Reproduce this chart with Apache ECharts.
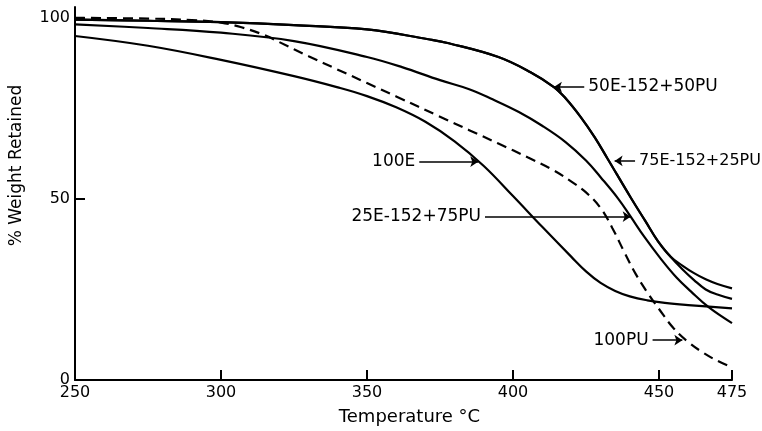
<!DOCTYPE html>
<html>
<head>
<meta charset="utf-8">
<title>TGA</title>
<script src="https://cdn.jsdelivr.net/npm/echarts@6/dist/echarts.min.js"></script>
<style>
  html, body { margin: 0; padding: 0; background: #fff; }
  #chart { width: 762px; height: 431px; }
</style>
</head>
<body>
<div id="chart"></div>
<script>
// temperature (C) / % weight retained
// 50E and 75E run together until ~454 C, then split
var temps50 = [250, 275, 300, 325, 350, 371, 378, 395, 406, 414, 418, 423.2, 428, 432.4, 440.3, 445.4, 449.5, 453.9, 458, 462, 466, 470, 475]
var w50 = [99.5, 99.2, 98.8, 98.0, 96.8, 94.1, 93.0, 89.2, 85.0, 80.9, 77.8, 72.6, 67.0, 61.1, 50.4, 43.8, 38.5, 34.1, 31.6, 29.5, 27.8, 26.5, 25.3]
var w75 = [99.5, 99.2, 98.8, 98.0, 96.8, 94.1, 93.0, 89.2, 85.0, 80.9, 77.8, 72.6, 67.0, 61.1, 50.4, 43.8, 38.5, 34.1, 30.6, 27.6, 25.0, 23.6, 22.4]

var temps25 = [250, 275, 300, 325, 350, 362, 375, 385, 393, 402, 410, 418, 425, 430, 436, 440.3, 445, 450.5, 456, 461, 467, 475]
var w25 = [98.2, 97.2, 95.9, 93.6, 89.2, 86.4, 82.8, 80.3, 77.5, 74.0, 70.2, 65.7, 60.6, 56.0, 50.1, 45.1, 39.5, 33.6, 28.3, 24.4, 20.1, 15.7]

var temps100E = [250, 275, 300, 325, 340, 350, 360, 370, 380, 390, 400, 410, 420, 425, 430, 435, 440, 446, 452, 460, 475]
var w100E = [95.0, 92.3, 88.4, 83.9, 80.8, 78.4, 75.3, 71.3, 65.9, 59.1, 50.8, 42.3, 34.0, 30.0, 26.8, 24.6, 23.1, 22.0, 21.3, 20.7, 19.8]

var tempsPU = [250, 275, 290, 300, 307, 315, 320, 330, 340, 350, 360, 375, 385, 395, 405, 413, 420, 425, 430, 434, 438, 442, 446, 450, 455, 460, 465, 470, 475]
var wPU = [100, 99.8, 99.4, 98.7, 97.4, 95.2, 93.3, 89.4, 85.7, 82.0, 78.3, 72.7, 69.0, 65.3, 61.5, 58.3, 54.8, 51.8, 47.5, 42.0, 35.5, 29.3, 24.2, 19.6, 14.3, 10.5, 7.6, 5.3, 3.5]

var xTicks = [250, 300, 350, 400, 450, 475]
var yTicks = [0, 50, 100]

// callouts: [tail temp, tip temp, weight, font size]
var callouts = {
  '50E-152+50PU': [424.4, 414.0, 80.9, 17],
  '75E-152+25PU': [441.8, 434.8, 60.5, 16],
  '100E': [367.9, 388.1, 60.3, 17],
  '25E-152+75PU': [390.4, 440.3, 45.1, 17],
  '100PU': [447.8, 458.0, 11.0, 17]
}

var FONT = 'DejaVu Sans'

function pairs(xs, ys) {
  return xs.map(function (x, i) { return [x, ys[i]] })
}

function callout(name) {
  var c = callouts[name]
  return {
    silent: true,
    symbol: ['none', 'arrow'],
    symbolSize: 8,
    lineStyle: { color: '#000', width: 1.5, type: 'solid' },
    label: {
      show: true,
      position: 'start',
      distance: 4,
      formatter: name,
      color: '#000',
      fontFamily: FONT,
      fontSize: c[3]
    },
    data: [[{ coord: [c[0], c[2]] }, { coord: [c[1], c[2]] }]]
  }
}

function curve(name, xs, ys, dashed) {
  return {
    name: name,
    type: 'line',
    data: pairs(xs, ys),
    symbol: 'none',
    smooth: 0.4,
    lineStyle: { color: '#000', width: 2.2, type: dashed ? [10, 6] : 'solid' },
    emphasis: { disabled: true },
    markLine: callout(name)
  }
}

var chart = echarts.init(document.getElementById('chart'))
chart.setOption({
  animation: false,
  backgroundColor: '#fff',
  grid: { left: 73, right: 30, top: 7, bottom: 49 },
  xAxis: {
    type: 'value',
    min: 250,
    max: 475,
    name: 'Temperature °C',
    nameLocation: 'middle',
    nameGap: 28,
    nameTextStyle: { color: '#000', fontFamily: FONT, fontSize: 18, padding: [0, 0, 0, 12] },
    axisLine: { show: true, lineStyle: { color: '#000', width: 2 } },
    axisTick: { show: true, inside: true, length: 10, customValues: xTicks.slice(1), lineStyle: { color: '#000', width: 2 } },
    axisLabel: { customValues: xTicks, color: '#000', fontFamily: FONT, fontSize: 16, margin: 5 },
    splitLine: { show: false }
  },
  yAxis: {
    type: 'value',
    min: 0,
    max: 103,
    name: '% Weight Retained',
    nameLocation: 'middle',
    nameGap: 50,
    nameTextStyle: { color: '#000', fontFamily: FONT, fontSize: 17, padding: [0, 0, 0, 56] },
    axisLine: { show: true, lineStyle: { color: '#000', width: 2 } },
    axisTick: { show: true, inside: true, length: 10, customValues: yTicks.slice(1), lineStyle: { color: '#000', width: 2 } },
    axisLabel: { customValues: yTicks, color: '#000', fontFamily: FONT, fontSize: 16, margin: 5 },
    splitLine: { show: false }
  },
  series: [
    curve('50E-152+50PU', temps50, w50, false),
    curve('75E-152+25PU', temps50, w75, false),
    curve('25E-152+75PU', temps25, w25, false),
    curve('100E', temps100E, w100E, false),
    curve('100PU', tempsPU, wPU, true)
  ]
})
</script>
</body>
</html>
